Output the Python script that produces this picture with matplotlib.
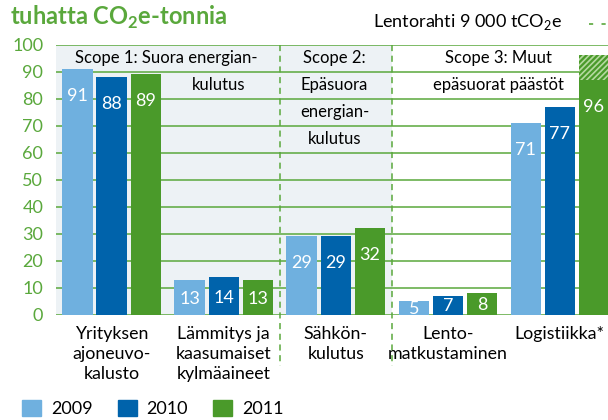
import matplotlib
matplotlib.use('Agg')
import matplotlib.pyplot as plt
from matplotlib.lines import Line2D
from matplotlib.patches import Patch
import numpy as np

# data (tuhatta tCO2e)
categories = ['Yrityksen\najoneuvo-\nkalusto', 'Lämmitys ja\nkaasumaiset\nkylmäaineet',
              'Sähkön-\nkulutus', 'Lento-\nmatkustaminen', 'Logistiikka*']
years = ['2009', '2010', '2011']
v2009 = [91, 13, 29, 5, 71]
v2010 = [88, 14, 29, 7, 77]
v2011 = [89, 13, 32, 8, 96]
lentorahti = [0, 0, 0, 0, 9]   # hatched part of logistics 2011
yticks = [0, 10, 20, 30, 40, 50, 60, 70, 80, 90, 100]

green = '#5aa83c'
c2009 = '#6fb0df'
c2010 = '#0063ab'
c2011 = '#4a9a2a'
shade = '#edf2f5'

plt.rcParams['font.family'] = 'Lato'
plt.rcParams['mathtext.fontset'] = 'custom'
plt.rcParams['mathtext.rm'] = 'Lato'
plt.rcParams['mathtext.bf'] = 'Lato:bold'
plt.rcParams['hatch.linewidth'] = 1.2

fig = plt.figure(figsize=(6.08, 4.2), dpi=100)
ax = fig.add_axes([55.7/608, 1 - 314.7/420, 1 - 55.7/608, 270/420])

x = np.arange(len(categories))
step = 0.304
w = 0.272

# scope 1 + 2 background
ax.axvspan(-0.5, 2.5, color=shade, zorder=0, lw=0)
for t in yticks:
    ax.axhline(t, color=green, lw=1.1, zorder=1)

ax.bar(x - step, v2009, w, color=c2009, zorder=2)
ax.bar(x, v2010, w, color=c2010, zorder=2)
solid2011 = [a - b for a, b in zip(v2011, lentorahti)]
ax.bar(x + step, solid2011, w, color=c2011, zorder=2)
ax.bar(x + step, lentorahti, w, bottom=solid2011, color=c2011, hatch='//////',
       edgecolor='#b5d9a0', lw=0, zorder=2)

# value labels, inside the bars
for xs, vals, shown in [(x - step, v2009, v2009), (x, v2010, v2010), (x + step, solid2011, v2011)]:
    for xi, v, s in zip(xs, vals, shown):
        y = v - 10 if v >= 20 else v * 0.45
        ax.text(xi, y, str(s), color='white', ha='center', va='center', fontsize=13, zorder=3)

# scope dividers
for xd in [1.5, 2.5]:
    ax.plot([xd, xd], [100, -19], color=green, lw=1.1, ls=(0, (4, 3)), clip_on=False, zorder=1)

# scope titles
ax.text(0.49, 95, 'Scope 1: Suora energian-', ha='center', va='center', fontsize=12)
ax.text(0.95, 85, 'kulutus', ha='center', va='center', fontsize=12)
for yy, s in zip([95, 85, 75, 65], ['Scope 2:', 'Epäsuora', 'energian-', 'kulutus']):
    ax.text(1.99, yy, s, ha='center', va='center', fontsize=12)
ax.text(3.45, 95, 'Scope 3: Muut', ha='center', va='center', fontsize=12)
ax.text(3.45, 85, 'epäsuorat päästöt', ha='center', va='center', fontsize=12)

ax.set_xlim(-0.5, 4.43)
ax.set_ylim(0, 100)
ax.set_yticks(yticks)
ax.tick_params(axis='y', length=0, labelcolor=green, labelsize=13, pad=9)
ax.set_xticks(x)
ax.set_xticklabels(categories, fontsize=12.8, linespacing=1.32)
ax.tick_params(axis='x', length=0, pad=8)
for sp in ax.spines.values():
    sp.set_visible(False)

# title and lentorahti note
fig.text(10/608, 1 - 25/420, r'tuhatta CO$_\mathbf{2}$e-tonnia', color=green, fontsize=17,
         fontweight='bold', va='baseline')
fig.text(373/608, 1 - 26.5/420, r'Lentorahti 9 000 tCO$_2$e', fontsize=13, va='baseline')
fig.add_artist(Line2D([589/608, 606/608], [1 - 24/420, 1 - 24/420], color=green,
                      lw=1.2, ls=(0, (2.5, 5))))

handles = [Patch(color=c) for c in [c2009, c2010, c2011]]
fig.legend(handles, years, loc='center left', bbox_to_anchor=(22/608, 1 - 408.5/420),
           ncol=3, frameon=False, fontsize=13, handlelength=1.05, handleheight=1.05,
           handletextpad=0.55, columnspacing=1.4, borderpad=0, borderaxespad=0)

fig.savefig('out.png', dpi=100)
